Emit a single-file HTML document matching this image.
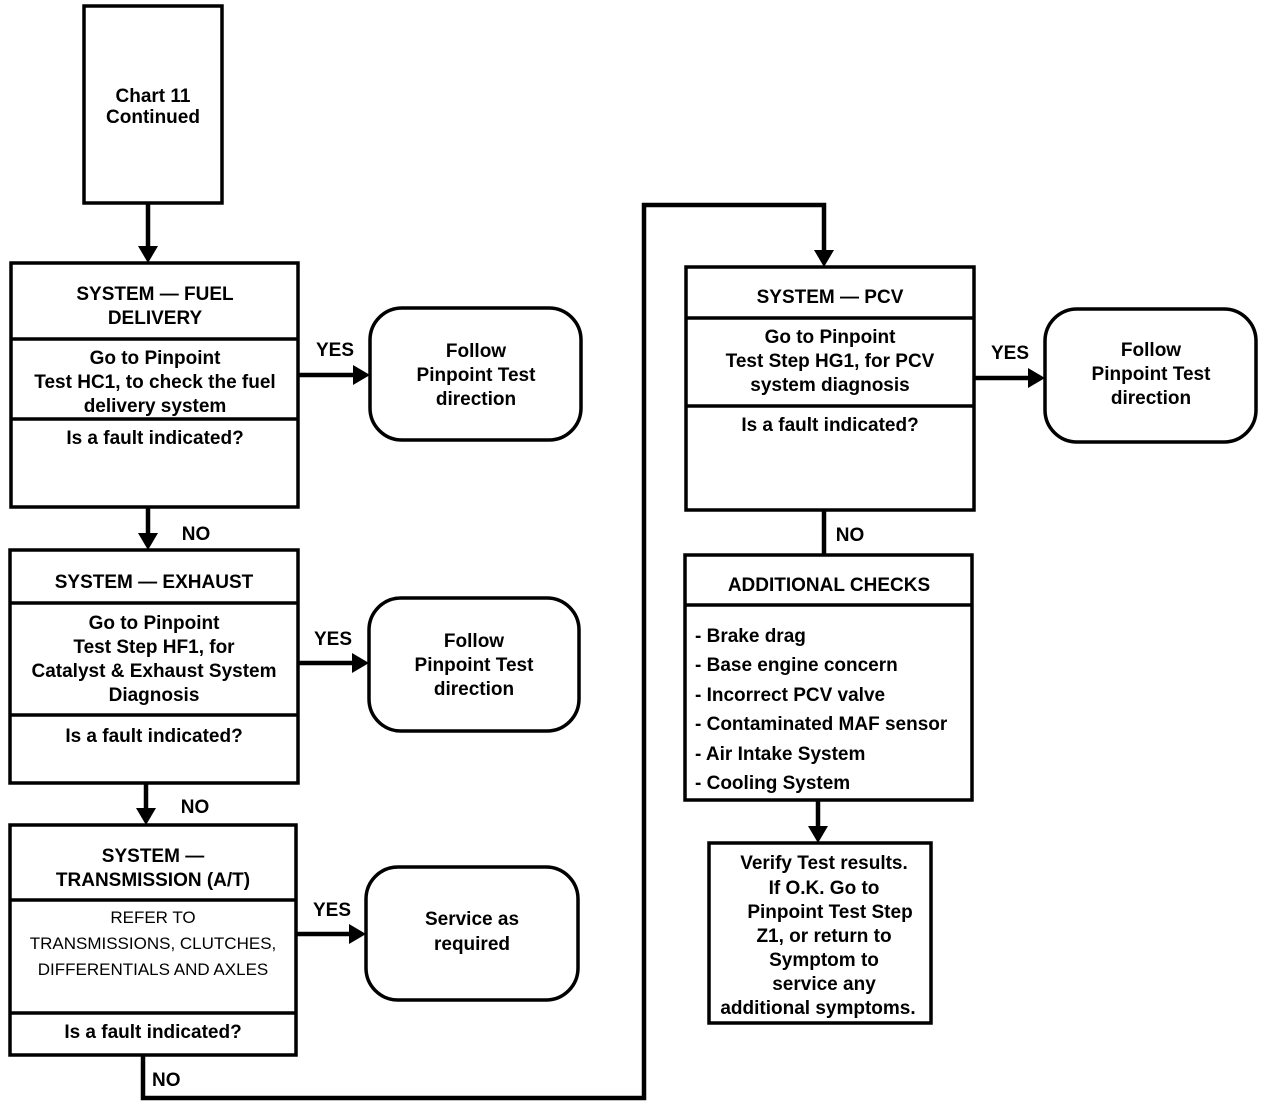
<!DOCTYPE html>
<html><head><style>body{margin:0;background:#fff}svg{display:block}
text{font-family:"Liberation Sans",sans-serif;font-size:19px;font-weight:bold;text-anchor:middle;fill:#000}
.l{text-anchor:start}.r{font-weight:normal;font-size:17px}</style></head><body>
<svg width="1280" height="1108" viewBox="0 0 1280 1108" xmlns="http://www.w3.org/2000/svg">
<g fill="none" stroke="#000" stroke-width="3.5">
<rect x="84" y="6" width="138" height="197"/>
<rect x="11" y="263" width="287" height="244"/><line x1="11" y1="339" x2="298" y2="339"/><line x1="11" y1="419" x2="298" y2="419"/>
<rect x="370" y="308" width="211" height="132" rx="32"/>
<rect x="10" y="550" width="288" height="233"/><line x1="10" y1="603" x2="298" y2="603"/><line x1="10" y1="715" x2="298" y2="715"/>
<rect x="369" y="598" width="210" height="133" rx="32"/>
<rect x="10" y="825" width="286" height="230"/><line x1="10" y1="900" x2="296" y2="900"/><line x1="10" y1="1013" x2="296" y2="1013"/>
<rect x="366" y="867" width="212" height="133" rx="32"/>
<rect x="686" y="267" width="288" height="243"/><line x1="686" y1="318" x2="974" y2="318"/><line x1="686" y1="406" x2="974" y2="406"/>
<rect x="1045" y="309" width="211" height="133" rx="32"/>
<rect x="685" y="555" width="287" height="245"/><line x1="685" y1="605" x2="972" y2="605"/>
<rect x="709" y="843" width="222" height="180"/>
<g stroke-width="4.5">
<line x1="148" y1="203" x2="148" y2="248"/>
<line x1="298" y1="375" x2="355" y2="375"/>
<line x1="148" y1="507" x2="148" y2="535"/>
<line x1="298" y1="663" x2="354" y2="663"/>
<line x1="146" y1="783" x2="146" y2="810"/>
<line x1="296" y1="934" x2="351" y2="934"/>
<polyline points="143,1055 143,1098 644,1098 644,205 824,205 824,252"/>
<line x1="974" y1="378" x2="1030" y2="378"/>
<line x1="824" y1="510" x2="824" y2="555"/>
<line x1="818" y1="800" x2="818" y2="828"/>
</g></g>
<g fill="#000">
<polygon points="138,246 158,246 148,263"/>
<polygon points="353,365 353,385 370,375"/>
<polygon points="138,533 158,533 148,550"/>
<polygon points="352,653 352,673 369,663"/>
<polygon points="136,808 156,808 146,825"/>
<polygon points="349,924 349,944 366,934"/>
<polygon points="814,250 834,250 824,267"/>
<polygon points="1028,368 1028,388 1045,378"/>
<polygon points="808,826 828,826 818,843"/>
</g>
<text x="153" y="102">Chart 11</text><text x="153" y="123">Continued</text>
<text x="155" y="300">SYSTEM — FUEL</text><text x="155" y="324">DELIVERY</text>
<text x="155" y="364">Go to Pinpoint</text><text x="155" y="388">Test HC1, to check the fuel</text><text x="155" y="412">delivery system</text>
<text x="155" y="444">Is a fault indicated?</text>
<text x="335" y="356">YES</text>
<text x="476" y="357">Follow</text><text x="476" y="381">Pinpoint Test</text><text x="476" y="405">direction</text>
<text x="196" y="540">NO</text>
<text x="154" y="588">SYSTEM — EXHAUST</text>
<text x="154" y="629">Go to  Pinpoint</text><text x="154" y="653">Test Step HF1, for</text><text x="154" y="677">Catalyst &amp; Exhaust System</text><text x="154" y="701">Diagnosis</text>
<text x="154" y="742">Is a fault indicated?</text>
<text x="333" y="645">YES</text>
<text x="474" y="647">Follow</text><text x="474" y="671">Pinpoint Test</text><text x="474" y="695">direction</text>
<text x="195" y="813">NO</text>
<text x="153" y="862">SYSTEM —</text><text x="153" y="886">TRANSMISSION (A/T)</text>
<text class="r" x="153" y="923">REFER TO</text><text class="r" x="153" y="949">TRANSMISSIONS, CLUTCHES,</text><text class="r" x="153" y="975">DIFFERENTIALS AND  AXLES</text>
<text x="153" y="1038">Is a fault indicated?</text>
<text x="332" y="916">YES</text>
<text x="472" y="925">Service as</text><text x="472" y="950">required</text>
<text class="l" x="152" y="1086">NO</text>
<text x="830" y="303">SYSTEM — PCV</text>
<text x="830" y="343">Go to  Pinpoint</text><text x="830" y="367">Test Step HG1, for PCV</text><text x="830" y="391">system diagnosis</text>
<text x="830" y="431">Is a fault indicated?</text>
<text x="1010" y="359">YES</text>
<text x="1151" y="356">Follow</text><text x="1151" y="380">Pinpoint Test</text><text x="1151" y="404">direction</text>
<text x="850" y="541">NO</text>
<text x="829" y="591">ADDITIONAL CHECKS</text>
<text class="l" x="695" y="642">- Brake drag</text>
<text class="l" x="695" y="671">- Base engine concern</text>
<text class="l" x="695" y="701">- Incorrect PCV valve</text>
<text class="l" x="695" y="730">- Contaminated MAF sensor</text>
<text class="l" x="695" y="760">- Air Intake System</text>
<text class="l" x="695" y="789">- Cooling System</text>
<text x="824" y="869">Verify Test results.</text><text x="824" y="894">If O.K. Go to</text><text x="830" y="918">Pinpoint Test Step</text><text x="824" y="942">Z1, or return to</text><text x="824" y="966">Symptom to</text><text x="824" y="990">service any</text><text x="818" y="1014">additional symptoms.</text>
</svg></body></html>
